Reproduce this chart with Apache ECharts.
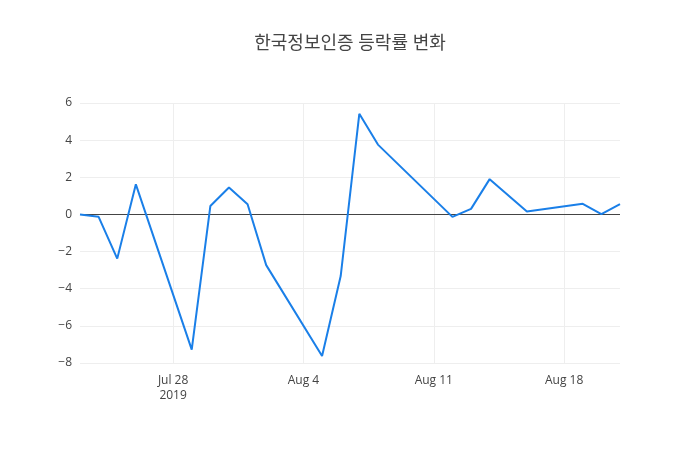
<!DOCTYPE html>
<html>
<head>
<meta charset="utf-8">
<script src="https://cdn.jsdelivr.net/npm/echarts@6/dist/echarts.min.js"></script>
<style>
  html, body { margin: 0; padding: 0; background: #fff; }
  #chart { width: 700px; height: 450px; }
</style>
</head>
<body>
<div id="chart"></div>
<script>
// 거래일별 등락률 (%)
const dates = [
    "2019-07-23", "2019-07-24", "2019-07-25", "2019-07-26", "2019-07-29",
    "2019-07-30", "2019-07-31", "2019-08-01", "2019-08-02", "2019-08-05",
    "2019-08-06", "2019-08-07", "2019-08-08", "2019-08-12", "2019-08-13",
    "2019-08-14", "2019-08-16", "2019-08-19", "2019-08-20", "2019-08-21"
];
const rates = [
    0.0, -0.13, -2.38, 1.62, -7.28,
    0.45, 1.45, 0.55, -2.73, -7.62,
    -3.32, 5.42, 3.76, -0.13, 0.3,
    1.9, 0.16, 0.57, 0.02, 0.56
];
// x축 눈금 (일요일)
const tickDates = ["2019-07-28", "2019-08-04", "2019-08-11", "2019-08-18"];
const yTicks = [-8, -6, -4, -2, 0, 2, 4, 6];

const fontFamily = '"Open Sans", "Noto Sans CJK KR", sans-serif';
const monthNames = ["Jan", "Feb", "Mar", "Apr", "May", "Jun", "Jul", "Aug", "Sep", "Oct", "Nov", "Dec"];

function toTime(s) {
    return new Date(s + "T00:00:00").getTime();
}

const tickValues = tickDates.map(toTime);

var myChart = echarts.init(document.getElementById("chart"));
option = {
    backgroundColor: "#fff",
    animation: false,
    title: {
        text: "한국정보인증 등락률 변화",
        left: "center",
        top: 30,
        textStyle: {
            fontFamily: fontFamily,
            fontSize: 18,
            fontWeight: "normal",
            color: "#444"
        }
    },
    grid: {
        left: 80,
        right: 80,
        top: 103,
        bottom: 87
    },
    xAxis: {
        type: "value",
        scale: true,
        min: toTime(dates[0]),
        max: toTime(dates[dates.length - 1]),
        axisLine: { show: false },
        axisTick: {
            show: true,
            length: 0,
            customValues: tickValues
        },
        axisLabel: {
            customValues: tickValues,
            margin: 10,
            fontFamily: fontFamily,
            fontSize: 12,
            color: "#444",
            lineHeight: 15,
            formatter: function (value) {
                var d = new Date(value);
                var txt = monthNames[d.getMonth()] + " " + d.getDate();
                if (value === tickValues[0]) {
                    txt += "\n" + d.getFullYear();
                }
                return txt;
            }
        },
        splitLine: {
            show: true,
            lineStyle: { color: "#eee", width: 1 }
        }
    },
    yAxis: {
        type: "value",
        min: yTicks[0],
        max: yTicks[yTicks.length - 1],
        interval: 2,
        axisLine: { show: false },
        axisTick: { show: false },
        axisLabel: {
            margin: 8,
            fontFamily: fontFamily,
            fontSize: 12,
            color: "#444",
            formatter: function (v) {
                return v < 0 ? "\u2212" + Math.abs(v) : String(v);
            }
        },
        splitLine: {
            show: true,
            lineStyle: { color: "#eee", width: 1 }
        }
    },
    series: [
        {
            type: "line",
            data: dates.map(function (d, i) { return [toTime(d), rates[i]]; }),
            showSymbol: false,
            symbol: "none",
            lineStyle: { color: "#1a7fe8", width: 2 },
            itemStyle: { color: "#1a7fe8" },
            z: 3,
            markLine: {
                silent: true,
                symbol: "none",
                label: { show: false },
                lineStyle: { color: "#444", width: 1, type: "solid" },
                data: [{ yAxis: 0 }],
                z: 2
            }
        }
    ]
};
myChart.setOption(option);
</script>
</body>
</html>
